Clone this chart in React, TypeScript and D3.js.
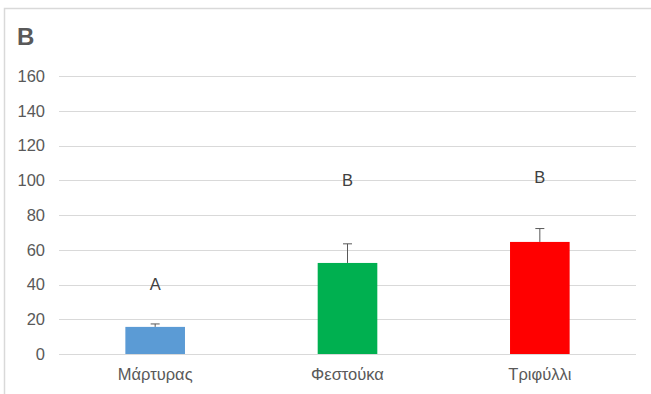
import React from "react";
import * as d3 from "d3";

const categories = ["Μάρτυρας", "Φεστούκα", "Τριφύλλι"];
const values = [15.6, 52.4, 64.5];
const errors = [1.7, 11.0, 7.7];
const letters = ["A", "B", "B"];
const letterValues = [40, 100, 102];
const colors = ["#5B9BD5", "#00B050", "#FF0000"];
const yTicks = [0, 20, 40, 60, 80, 100, 120, 140, 160];

const W = 651;
const H = 394;
const left = 59;
const right = 636;
const top = 76;
const bottom = 354;

export default function App() {
  const x = d3.scaleBand<string>().domain(categories).range([left, right]).paddingInner(0.69).paddingOuter(0.345);
  const y = d3.scaleLinear().domain([0, 160]).range([bottom, top]);
  const font = "'Liberation Sans', Arial, sans-serif";
  const textColor = "#595959";
  return (
    <svg width={W} height={H} style={{ position: "absolute", left: 0, top: 0 }} fontFamily={font}>
      <rect x={0} y={0} width={W} height={H} fill="#fff" />
      <path d={`M4.5,${H} V8.5 H${W}`} fill="none" stroke="#d9d9d9" strokeWidth={1.5} />
      <text x={17} y={45} fontSize={24} fontWeight="bold" fill={textColor}>B</text>
      {yTicks.map((t) => (
        <g key={t}>
          <line x1={left} x2={right} y1={Math.round(y(t)) + 0.5} y2={Math.round(y(t)) + 0.5} stroke="#d9d9d9" strokeWidth={1} />
          <text x={45} y={y(t)} dy="0.35em" textAnchor="end" fontSize={16.5} fill={textColor}>{t}</text>
        </g>
      ))}
      {categories.map((c, i) => {
        const bx = x(c)!;
        const bw = x.bandwidth();
        const cx = bx + bw / 2;
        return (
          <g key={c}>
            <rect x={bx} y={y(values[i])} width={bw} height={y(0) - y(values[i])} fill={colors[i]} />
            <line x1={cx} x2={cx} y1={y(values[i])} y2={y(values[i] + errors[i])} stroke="#595959" strokeWidth={1} />
            <line x1={cx - 4.5} x2={cx + 4.5} y1={y(values[i] + errors[i])} y2={y(values[i] + errors[i])} stroke="#595959" strokeWidth={1} />
            <text x={cx} y={y(letterValues[i])} dy="0.35em" textAnchor="middle" fontSize={16.5} fill="#404040">{letters[i]}</text>
            <text x={cx} y={380} textAnchor="middle" fontSize={16.5} fill={textColor}>{c}</text>
          </g>
        );
      })}
    </svg>
  );
}
